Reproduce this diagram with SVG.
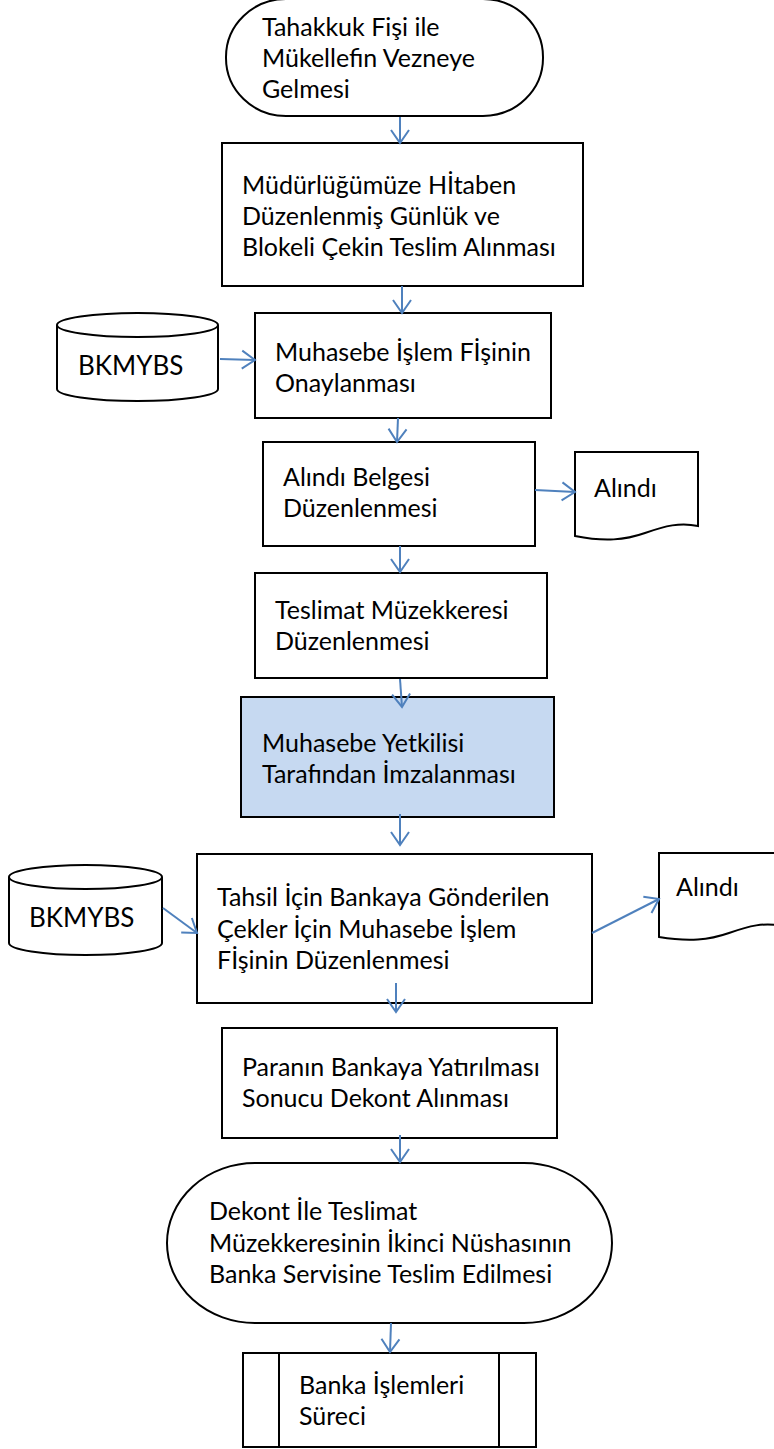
<svg xmlns="http://www.w3.org/2000/svg" width="774" height="1449" viewBox="0 0 774 1449">
<defs>
<style>
.s{fill:#fff;stroke:#000;stroke-width:2}
.b{fill:#C6D9F1;stroke:#000;stroke-width:2}
.t{font-family:Lato,"Open Sans","Liberation Sans",sans-serif;font-size:25px;fill:#000}
.tb{font-family:Lato,"Open Sans","Liberation Sans",sans-serif;font-size:26px;fill:#000}
.c{fill:none;stroke:#4F81BD;stroke-width:2;marker-end:url(#ah)}
</style>
<marker id="ah" viewBox="-2 -2 17 22" refX="13" refY="9" markerWidth="17" markerHeight="22" markerUnits="userSpaceOnUse" orient="auto">
<path d="M0,0 L13,9 L0,18" fill="none" stroke="#4F81BD" stroke-width="2"/>
</marker>
</defs>
<rect width="774" height="1449" fill="#fff"/>
<g id="n1">
<rect class="s" x="226" y="-1" width="317" height="117" rx="60" ry="58"/>
<text class="t" x="262" y="36">Tahakkuk Fişi ile</text>
<text class="t" x="262" y="67">Mükellefin Vezneye</text>
<text class="t" x="262" y="98">Gelmesi</text>
</g>
<g id="n2">
<rect class="s" x="222" y="143" width="361" height="143"/>
<text class="t" x="242" y="194">Müdürlüğümüze Hİtaben</text>
<text class="t" x="242" y="225">Düzenlenmiş Günlük ve</text>
<text class="t" x="242" y="256">Blokeli Çekin Teslim Alınması</text>
</g>
<g id="db1">
<path class="s" d="M57,325 V389 A80.5,12 0 0 0 218,389 V325 A80.5,12 0 0 0 57,325 Z"/>
<path d="M57,325 A80.5,12 0 0 0 218,325" fill="none" stroke="#000" stroke-width="2"/>
<text class="tb" x="78" y="375">BKMYBS</text>
</g>
<g id="n3">
<rect class="s" x="255" y="313" width="296" height="105"/>
<text class="t" x="275" y="361">Muhasebe İşlem Fİşinin</text>
<text class="t" x="275" y="392">Onaylanması</text>
</g>
<g id="n4">
<rect class="s" x="263" y="442" width="272" height="104"/>
<text class="t" x="283" y="486">Alındı Belgesi</text>
<text class="t" x="283" y="517">Düzenlenmesi</text>
</g>
<g id="doc1">
<path class="s" d="M575,452 H698 V526 C680,522 665,526 645,533 C625,540 605,542 575,536 Z"/>
<text class="t" x="594" y="497">Alındı</text>
</g>
<g id="n5">
<rect class="s" x="255" y="573" width="292" height="105"/>
<text class="t" x="275" y="619">Teslimat Müzekkeresi</text>
<text class="t" x="275" y="650">Düzenlenmesi</text>
</g>
<g id="n6">
<rect class="b" x="241" y="697" width="313" height="120"/>
<text class="t" x="262" y="752">Muhasebe Yetkilisi</text>
<text class="t" x="262" y="783">Tarafından İmzalanması</text>
</g>
<g id="db2">
<path class="s" d="M9,877 V943 A76.5,12 0 0 0 162,943 V877 A76.5,12 0 0 0 9,877 Z"/>
<path d="M9,877 A76.5,12 0 0 0 162,877" fill="none" stroke="#000" stroke-width="2"/>
<text class="tb" x="29" y="927">BKMYBS</text>
</g>
<g id="n7">
<rect class="s" x="197" y="854" width="395" height="149"/>
<text class="t" x="217" y="906">Tahsil İçin Bankaya Gönderilen</text>
<text class="t" x="217" y="938">Çekler İçin Muhasebe İşlem</text>
<text class="t" x="217" y="969">Fİşinin Düzenlenmesi</text>
</g>
<g id="doc2">
<path class="s" d="M659,853 H782 V926 C764,922 749,926 729,933 C709,940 689,942 659,937 Z"/>
<text class="t" x="676" y="896">Alındı</text>
</g>
<g id="n8">
<rect class="s" x="222" y="1028" width="335" height="110"/>
<text class="t" x="242" y="1076">Paranın Bankaya Yatırılması</text>
<text class="t" x="242" y="1107">Sonucu Dekont Alınması</text>
</g>
<g id="n9">
<rect class="s" x="167" y="1163" width="445" height="160" rx="88" ry="80"/>
<text class="t" x="209" y="1220">Dekont İle Teslimat</text>
<text class="t" x="209" y="1252">Müzekkeresinin İkinci Nüshasının</text>
<text class="t" x="209" y="1283">Banka Servisine Teslim Edilmesi</text>
</g>
<g id="n10">
<rect class="s" x="243" y="1353" width="293" height="94"/>
<line x1="279" y1="1353" x2="279" y2="1447" stroke="#000" stroke-width="2"/>
<line x1="499" y1="1353" x2="499" y2="1447" stroke="#000" stroke-width="2"/>
<text class="t" x="299" y="1394">Banka İşlemleri</text>
<text class="t" x="299" y="1425">Süreci</text>
</g>
<g id="connectors">
<line class="c" x1="400" y1="117" x2="400" y2="143"/>
<line class="c" x1="402" y1="286" x2="402" y2="313"/>
<line class="c" x1="398" y1="418" x2="397" y2="442"/>
<line class="c" x1="220" y1="359" x2="255" y2="360"/>
<line class="c" x1="535" y1="490" x2="575" y2="492"/>
<line class="c" x1="400" y1="546" x2="400" y2="572"/>
<line class="c" x1="400" y1="679" x2="402" y2="707"/>
<line class="c" x1="400" y1="814" x2="400" y2="845"/>
<line class="c" x1="163" y1="908" x2="197" y2="933"/>
<line class="c" x1="592" y1="933" x2="659" y2="899"/>
<line class="c" x1="396" y1="983" x2="396" y2="1012"/>
<line class="c" x1="400" y1="1135" x2="400" y2="1162"/>
<line class="c" x1="391" y1="1323" x2="390" y2="1352"/>
</g>
</svg>
